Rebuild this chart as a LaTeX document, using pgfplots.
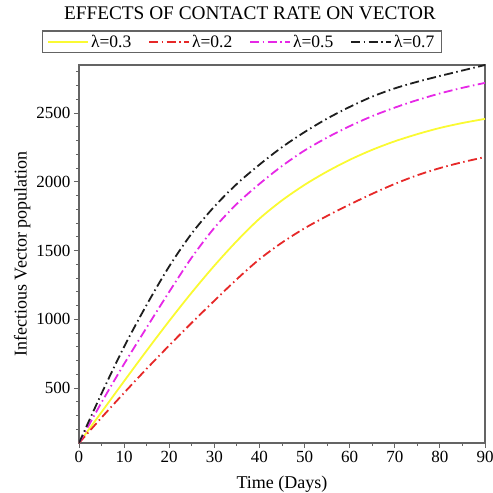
\documentclass[border=0pt]{standalone}
\usepackage{fontspec}
\setmainfont{Liberation Serif}
\usepackage{pgfplots}
\pgfplotsset{compat=1.18}
\definecolor{cyel}{RGB}{250,250,50}
\definecolor{cred}{RGB}{230,40,40}
\definecolor{cmag}{RGB}{230,40,230}
\definecolor{cblk}{RGB}{30,30,30}
\definecolor{cax}{RGB}{100,100,100}
\begin{document}
\begin{tikzpicture}
\useasboundingbox (-79pt,-50pt) rectangle (414pt,443pt);
\begin{axis}[
  at={(0pt,0pt)}, anchor=south west,
  scale only axis, width=406pt, height=378pt,
  xmin=0, xmax=90, ymin=100, ymax=2850,
  xtick={0,10,...,90}, minor xtick={5,15,...,85},
  ytick={500,1000,1500,2000,2500}, minor ytick={200,300,400,600,700,800,900,1100,1200,1300,1400,1600,1700,1800,1900,2100,2200,2300,2400,2600,2700,2800},
  xtick pos=bottom, ytick pos=left, tick align=outside,
  major tick length=5pt, minor tick length=3pt,
  axis line style={cax, line width=1.3pt},
  every tick/.style={cax, line width=0.9pt},
  /pgf/number format/assume math mode=true,
  /pgf/number format/1000 sep={},
  tick label style={font=\fontsize{17}{19}\selectfont},
  xlabel={Time (Days)}, ylabel={Infectious Vector population},
  label style={font=\fontsize{18}{20}\selectfont},
  xlabel style={at={(axis description cs:0.5,-0.108)}, anchor=center},
  ylabel style={at={(axis description cs:-0.140,0.5)}, anchor=center},
  title={EFFECTS OF CONTACT RATE ON VECTOR},
  title style={at={(axis description cs:0.421,1.120)}, anchor=center, font=\fontsize{19.3}{21}\selectfont},
  legend columns=4,
  legend style={at={(axis description cs:0.401,1.061)}, anchor=center, draw=cax, line width=1.3pt, fill=white,
    font=\fontsize{17.5}{19}\selectfont, inner xsep=5pt, inner ysep=2pt,
    /tikz/every even column/.append style={column sep=15pt}},
  legend image code/.code={\draw[#1] (0pt,0pt) -- (40pt,0pt);},
  every axis plot/.append style={line width=1.8pt, smooth},
]
\addplot[cyel] coordinates {(0,100) (5,325) (10,550) (15,772) (20,988) (25,1195) (30,1390) (35,1570) (40,1732) (45,1865) (50,1978) (55,2075) (60,2160) (65,2233) (70,2295) (75,2347) (80,2392) (85,2428) (90,2458)};
\addlegendentry{λ=0.3}
\addplot[cred, dash pattern=on 9pt off 3.5pt on 1.5pt off 3.5pt] coordinates {(0,100) (5,285) (10,465) (15,640) (20,810) (25,975) (30,1135) (35,1292) (40,1437) (45,1558) (50,1662) (55,1752) (60,1835) (65,1913) (70,1985) (75,2048) (80,2100) (85,2143) (90,2180)};
\addlegendentry{λ=0.2}
\addplot[cmag, dash pattern=on 9pt off 3.5pt on 1.5pt off 3.5pt] coordinates {(0,100) (5,395) (10,675) (15,940) (20,1200) (25,1450) (30,1665) (35,1840) (40,1985) (45,2115) (50,2228) (55,2322) (60,2405) (65,2478) (70,2540) (75,2595) (80,2643) (85,2684) (90,2720)};
\addlegendentry{λ=0.5}
\addplot[cblk, dash pattern=on 9pt off 3.5pt on 1.5pt off 3.5pt] coordinates {(0,100) (5,460) (10,800) (15,1105) (20,1385) (25,1625) (30,1820) (35,1985) (40,2125) (45,2252) (50,2362) (55,2460) (60,2545) (65,2620) (70,2680) (75,2728) (80,2770) (85,2810) (90,2850)};
\addlegendentry{λ=0.7}
\end{axis}
\end{tikzpicture}
\end{document}
